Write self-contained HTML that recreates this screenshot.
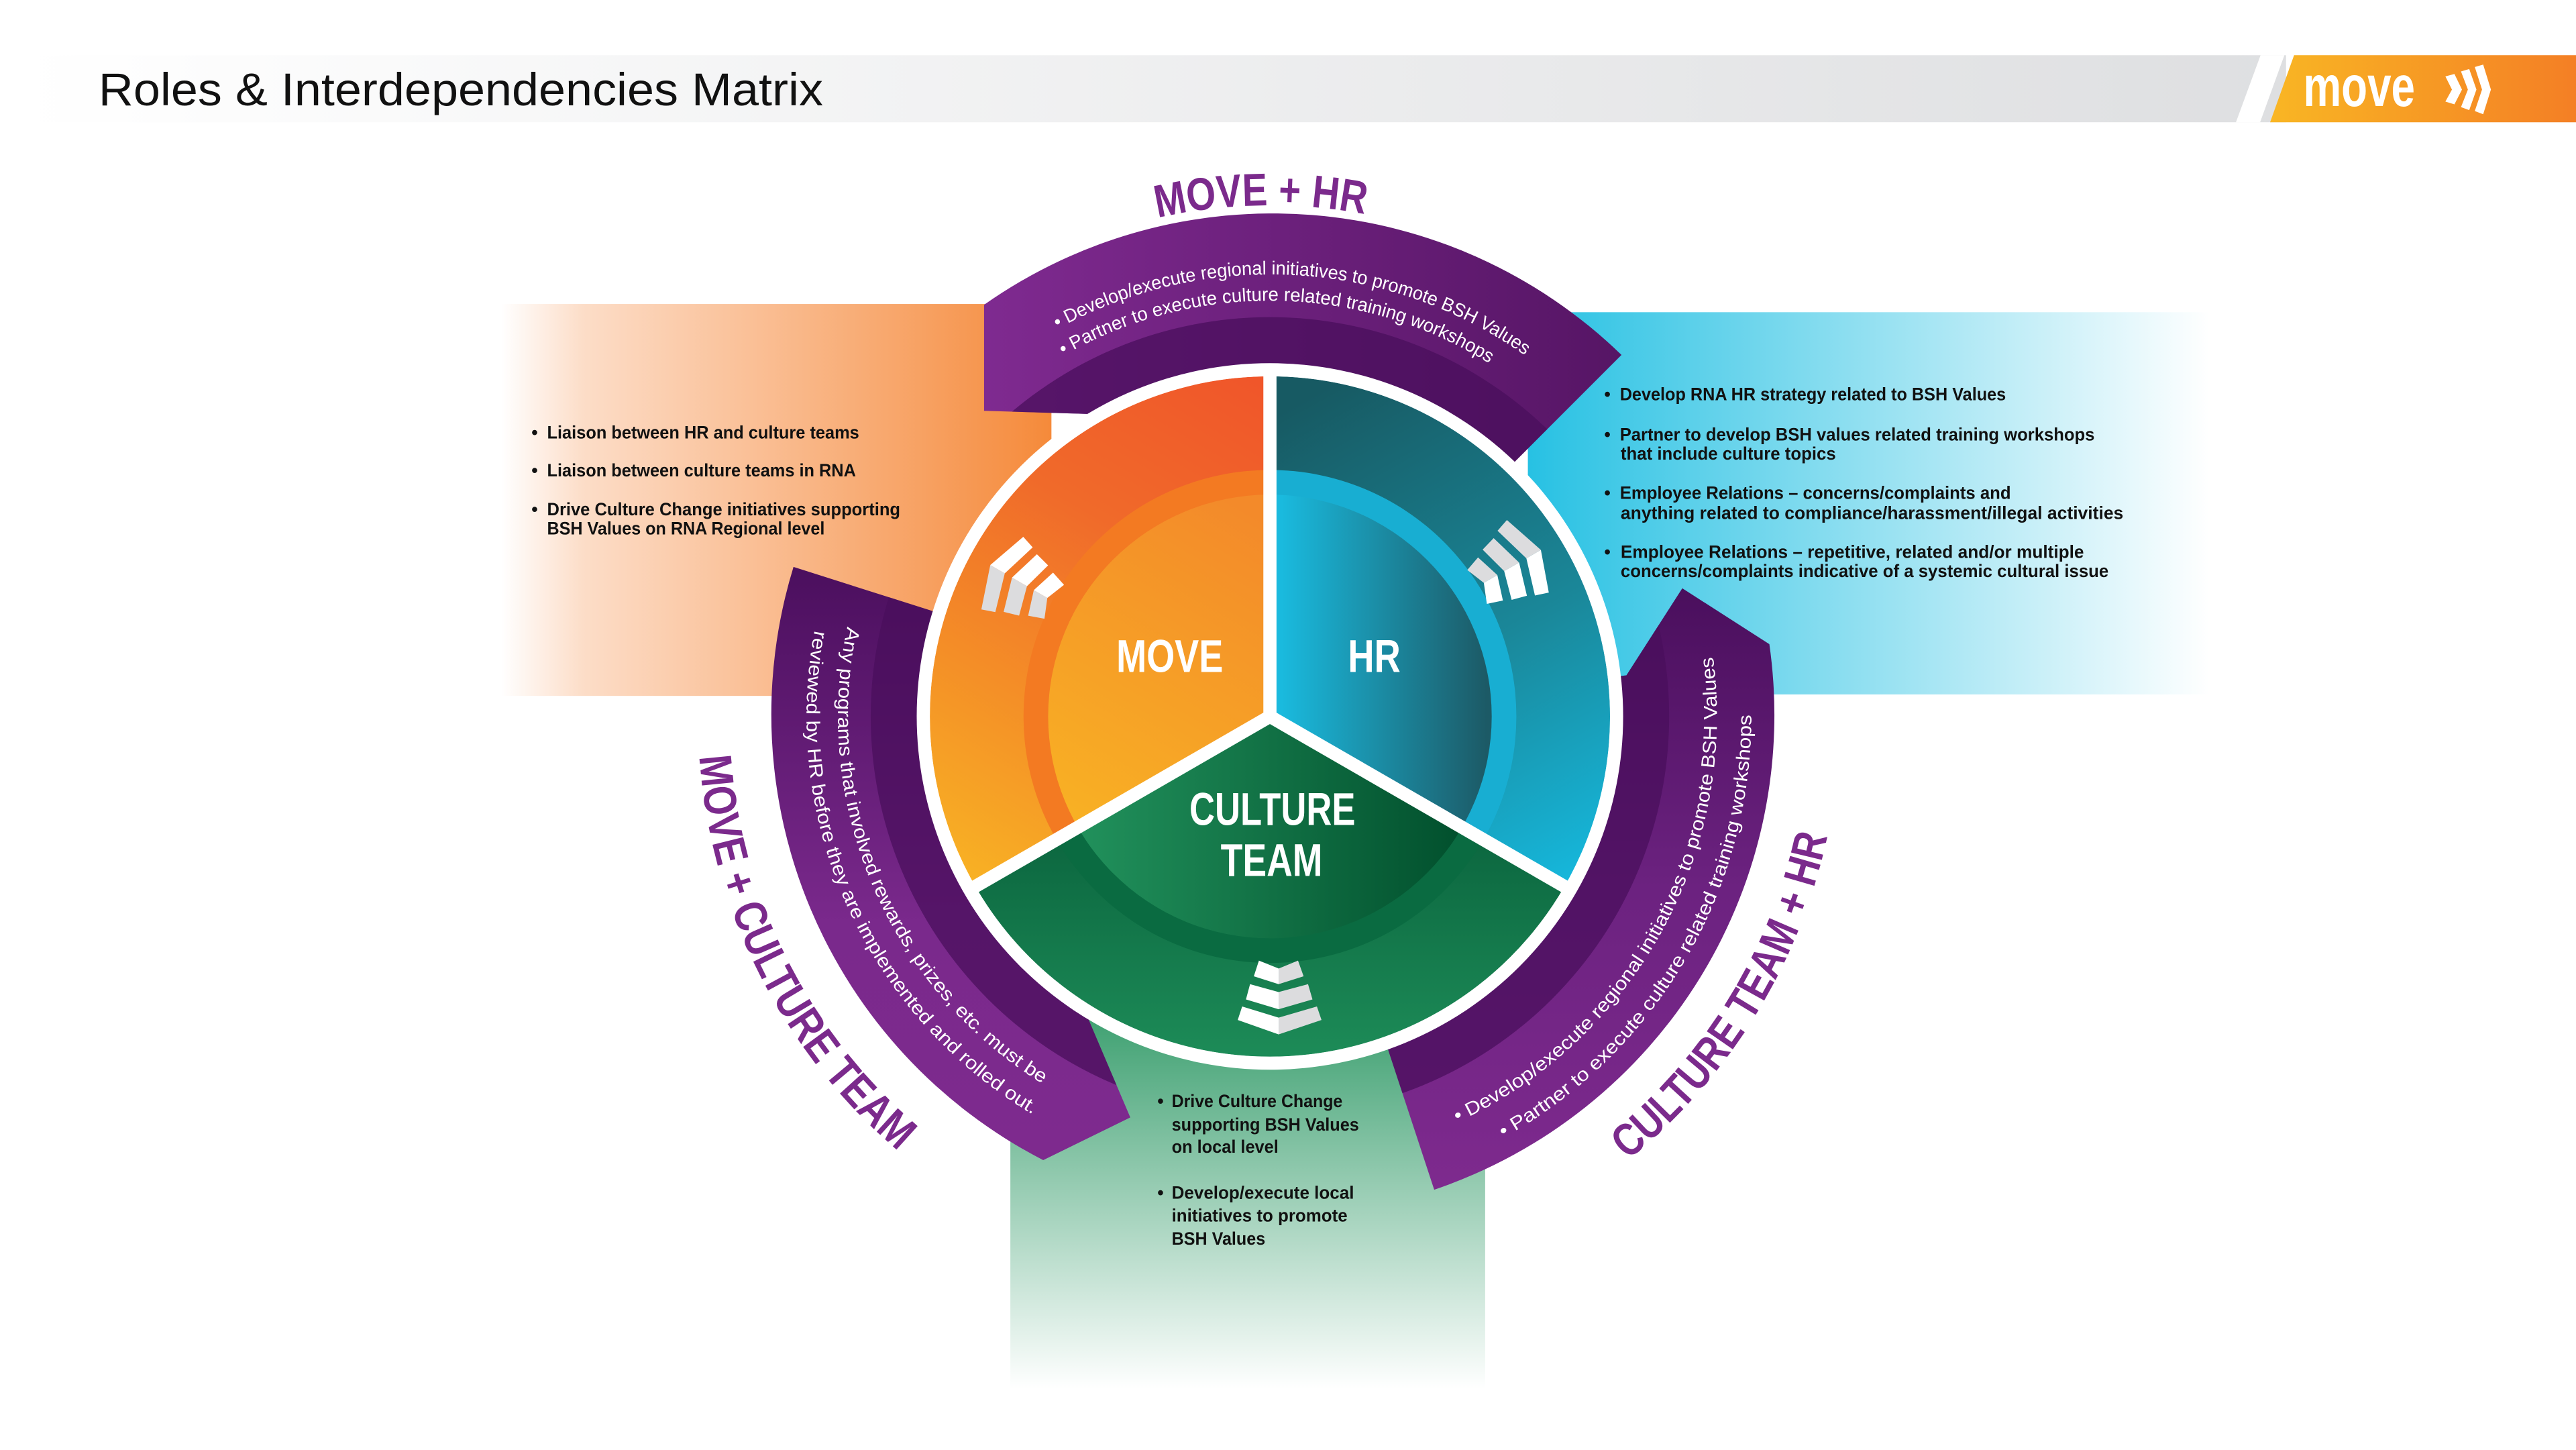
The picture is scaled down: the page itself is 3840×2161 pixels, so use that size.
<!DOCTYPE html>
<html><head><meta charset="utf-8"><style>
html,body{margin:0;padding:0;background:#fff;}
svg{display:block;}
text{font-family:"Liberation Sans",sans-serif;}
.b{font-weight:bold;font-size:11px;fill:#111;}
.w{fill:#fff;font-size:11.5px;}
.lbl{fill:#7b2a8c;font-weight:bold;font-size:28px;}
</style></head><body>
<svg width="3840" height="2161" viewBox="0 0 1568 882.4" preserveAspectRatio="none" xmlns="http://www.w3.org/2000/svg">
<defs>
<linearGradient id="gHead" x1="0" x2="1"><stop offset="0" stop-color="#ffffff"/><stop offset="1" stop-color="#dedfe1"/></linearGradient>
<linearGradient id="gLogo" x1="0" x2="1"><stop offset="0" stop-color="#f9b624"/><stop offset="1" stop-color="#f47f25"/></linearGradient>
<linearGradient id="gOr" x1="305" x2="640" gradientUnits="userSpaceOnUse"><stop offset="0" stop-color="#f68d45" stop-opacity="0"/><stop offset="0.15" stop-color="#f68d45" stop-opacity="0.3"/><stop offset="1" stop-color="#f58a3a"/></linearGradient>
<linearGradient id="gBl" x1="930" x2="1345" gradientUnits="userSpaceOnUse"><stop offset="0" stop-color="#27c1e3"/><stop offset="0.85" stop-color="#27c1e3" stop-opacity="0.15"/><stop offset="1" stop-color="#27c1e3" stop-opacity="0"/></linearGradient>
<linearGradient id="gGr" x1="0" y1="600" x2="0" y2="845" gradientUnits="userSpaceOnUse"><stop offset="0" stop-color="#2f9966"/><stop offset="1" stop-color="#2f9966" stop-opacity="0"/></linearGradient>
<linearGradient id="gPT" x1="599" x2="987" gradientUnits="userSpaceOnUse"><stop offset="0" stop-color="#7f2a90"/><stop offset="1" stop-color="#561565"/></linearGradient>
<linearGradient id="gPL" x1="0" y1="345" x2="0" y2="706" gradientUnits="userSpaceOnUse"><stop offset="0" stop-color="#4b0f5e"/><stop offset="0.6" stop-color="#7a298c"/><stop offset="1" stop-color="#7e2a8e"/></linearGradient>
<linearGradient id="gPR" x1="0" y1="724" x2="0" y2="358" gradientUnits="userSpaceOnUse"><stop offset="0" stop-color="#7e2a8e"/><stop offset="0.5" stop-color="#6c2280"/><stop offset="1" stop-color="#4a0f5d"/></linearGradient>
<linearGradient id="gMo" x1="773" y1="229" x2="593" y2="540" gradientUnits="userSpaceOnUse"><stop offset="0" stop-color="#f0552a"/><stop offset="0.35" stop-color="#f06a2a"/><stop offset="1" stop-color="#f8b224"/></linearGradient>
<linearGradient id="gMoI" x1="760" y1="310" x2="640" y2="520" gradientUnits="userSpaceOnUse"><stop offset="0" stop-color="#f38a2a"/><stop offset="1" stop-color="#f9b523"/></linearGradient>
<linearGradient id="gHr" x1="800" y1="240" x2="960" y2="530" gradientUnits="userSpaceOnUse"><stop offset="0" stop-color="#175a63"/><stop offset="0.55" stop-color="#1a8799"/><stop offset="1" stop-color="#16b6da"/></linearGradient>
<linearGradient id="gHrI" x1="780" x2="905" gradientUnits="userSpaceOnUse"><stop offset="0" stop-color="#1abade"/><stop offset="1" stop-color="#1c5a66"/></linearGradient>
<linearGradient id="gCu" x1="0" y1="440" x2="0" y2="645" gradientUnits="userSpaceOnUse"><stop offset="0" stop-color="#035433"/><stop offset="1" stop-color="#1d8c58"/></linearGradient>
<linearGradient id="gCuI" x1="650" x2="900" gradientUnits="userSpaceOnUse"><stop offset="0" stop-color="#22935d"/><stop offset="1" stop-color="#004d2b"/></linearGradient>
<clipPath id="cPurp">
<path d="M599,185.5 A305 305 0 0 1 987,216 L923,280 L773,436 L665,252 L599,250 Z"/>
<path d="M483,345 A305 305 0 0 0 635,706 L688,680 L662,619 L773,436 L568,372 Z"/>
<path d="M873,724 A305 305 0 0 0 1077,392 L1024,358 L990,411 L773,436 L845,639 Z"/>
</clipPath>
<clipPath id="cMo"><path d="M773,436 L773,229 A207 207 0 0 0 593.7,539.5 Z"/></clipPath>
<clipPath id="cHr"><path d="M773,436 L773,229 A207 207 0 0 1 952.3,539.5 Z"/></clipPath>
<clipPath id="cCu"><path d="M773,436 L952.3,539.5 A207 207 0 0 1 593.7,539.5 Z"/></clipPath>
<g id="icon">
<polygon points="766.3,584.6 778.3,589.4 778.3,598.9 763.2,594.1" fill="#fff"/>
<polygon points="778.3,589.4 790.1,584.6 793.5,594.1 778.3,598.9" fill="#dcdcde"/>
<polygon points="760.9,598.9 778.3,603.7 778.3,614.2 758.4,608.2" fill="#fff"/>
<polygon points="778.3,603.7 796.2,598.9 798.9,608.2 778.3,614.2" fill="#dcdcde"/>
<polygon points="756.1,612.5 778.3,619.3 778.3,629.5 753.4,620.7" fill="#fff"/>
<polygon points="778.3,619.3 801.6,612.5 804.4,620.7 778.3,629.5" fill="#dcdcde"/>
</g>
<path id="tp1" d="M643.8,200.1 A269 269 0 0 1 931.2,218.4"/>
<path id="tp2" d="M647.3,216.4 A253 253 0 0 1 908.2,222.2"/>
<path id="tpH" d="M612.8,169.5 A311 311 0 0 1 923.8,163.9"/>
<path id="lp1" d="M515.8,381.3 A263 263 0 0 0 636.8,660.9"/>
<path id="lp2" d="M495.8,383.6 A282 282 0 0 0 630.6,679.4"/>
<path id="lpL" d="M425.7,460.4 A348 348 0 0 0 548.5,701.9"/>
<path id="rp1" d="M887.0,683.0 A272 272 0 0 0 1042.3,396.8"/>
<path id="rp2" d="M915.1,692.4 A293 293 0 0 0 1066,431.9"/>
<path id="rpL" d="M990.9,706.0 A347 347 0 0 0 1112.7,506.8"/>
</defs>

<!-- header -->
<rect x="13.5" y="33.6" width="1378" height="40.8" fill="url(#gHead)"/>
<polygon points="1376,33.6 1390.5,33.6 1375.7,74.4 1361,74.4" fill="#fff"/>
<polygon points="1396.4,33.6 1568,33.6 1568,74.4 1381.8,74.4" fill="url(#gLogo)"/>
<text x="60" y="64.2" font-size="28" fill="#111" textLength="441" lengthAdjust="spacingAndGlyphs">Roles &amp; Interdependencies Matrix</text>
<text x="1402" y="64.5" font-size="35" font-weight="bold" fill="#fff" textLength="68" lengthAdjust="spacingAndGlyphs">move</text>
<g fill="#fff">
<polygon points="1488.5,46.5 1494,45 1498.6,54.5 1494,63.5 1488.5,61.8 1492.5,54.5"/>
<polygon points="1498,43.5 1503,42 1507.4,54.5 1503,67 1498,65.2 1502.2,54.5"/>
<polygon points="1506.4,40.8 1511.5,39.3 1516.2,54.5 1511.5,69.5 1506.4,67.6 1510.8,54.5"/>
</g>

<!-- background panels -->
<rect x="305" y="185" width="335" height="238.5" fill="url(#gOr)"/>
<rect x="930" y="190" width="415" height="232.6" fill="url(#gBl)"/>
<rect x="615" y="600" width="289" height="245" fill="url(#gGr)"/>

<!-- purple arcs -->
<path d="M599,185.5 A305 305 0 0 1 987,216 L923,280 L773,436 L665,252 L599,250 Z" fill="url(#gPT)"/>
<path d="M483,345 A305 305 0 0 0 635,706 L688,680 L662,619 L773,436 L568,372 Z" fill="url(#gPL)"/>
<path d="M873,724 A305 305 0 0 0 1077,392 L1024,358 L990,411 L773,436 L845,639 Z" fill="url(#gPR)"/>
<circle cx="773" cy="436" r="243" fill="#4a0f5c" opacity="0.75" clip-path="url(#cPurp)"/>

<!-- wheel -->
<circle cx="773" cy="436" r="215" fill="#fff"/>
<g clip-path="url(#cMo)">
<circle cx="773" cy="436" r="207" fill="url(#gMo)"/>
<circle cx="773" cy="436" r="150" fill="#f37a22"/>
<circle cx="773" cy="436" r="135" fill="url(#gMoI)"/>
</g>
<g clip-path="url(#cHr)">
<circle cx="773" cy="436" r="207" fill="url(#gHr)"/>
<circle cx="773" cy="436" r="150" fill="#18aed2"/>
<circle cx="773" cy="436" r="135" fill="url(#gHrI)"/>
</g>
<g clip-path="url(#cCu)">
<circle cx="773" cy="436" r="207" fill="url(#gCu)"/>
<circle cx="773" cy="436" r="150" fill="#0a6b41"/>
<circle cx="773" cy="436" r="135" fill="url(#gCuI)"/>
</g>
<g stroke="#fff" stroke-width="8" stroke-linecap="butt">
<line x1="773" y1="436" x2="773" y2="222"/>
<line x1="773" y1="436" x2="958.5" y2="543"/>
<line x1="773" y1="436" x2="587.5" y2="543"/>
</g>

<use href="#icon"/>
<use href="#icon" transform="rotate(120 773 436)"/>
<use href="#icon" transform="rotate(-120 773 436)"/>

<g fill="#fff" font-weight="bold" font-size="28" text-anchor="middle">
<text x="712" y="409" textLength="65" lengthAdjust="spacingAndGlyphs">MOVE</text>
<text x="836.5" y="409" textLength="32" lengthAdjust="spacingAndGlyphs">HR</text>
<text x="774.5" y="502" textLength="101" lengthAdjust="spacingAndGlyphs">CULTURE</text>
<text x="774" y="533" textLength="62" lengthAdjust="spacingAndGlyphs">TEAM</text>
</g>

<!-- arc texts -->
<text class="w"><textPath href="#tp1" textLength="300" lengthAdjust="spacingAndGlyphs">• Develop/execute regional initiatives to promote BSH Values</textPath></text>
<text class="w"><textPath href="#tp2" textLength="272" lengthAdjust="spacingAndGlyphs">• Partner to execute culture related training workshops</textPath></text>
<text class="lbl"><textPath href="#tpH" startOffset="50%" text-anchor="middle" textLength="127" lengthAdjust="spacingAndGlyphs">MOVE + HR</textPath></text>
<text class="w"><textPath href="#lp1" textLength="322" lengthAdjust="spacingAndGlyphs">Any programs that involved rewards, prizes, etc. must be</textPath></text>
<text class="w"><textPath href="#lp2" textLength="344" lengthAdjust="spacingAndGlyphs">reviewed by HR before they are implemented and rolled out.</textPath></text>
<text class="lbl"><textPath href="#lpL" textLength="276" lengthAdjust="spacingAndGlyphs">MOVE + CULTURE TEAM</textPath></text>
<text class="w"><textPath href="#rp1" textLength="346" lengthAdjust="spacingAndGlyphs">• Develop/execute regional initiatives to promote BSH Values</textPath></text>
<text class="w"><textPath href="#rp2" textLength="313" lengthAdjust="spacingAndGlyphs">• Partner to execute culture related training workshops</textPath></text>
<text class="lbl"><textPath href="#rpL" textLength="236" lengthAdjust="spacingAndGlyphs">CULTURE TEAM + HR</textPath></text>

<!-- orange block -->
<g class="b">
<text x="323.5" y="266.8">•</text><text x="333" y="266.8" textLength="190" lengthAdjust="spacingAndGlyphs">Liaison between HR and culture teams</text>
<text x="323.5" y="289.9">•</text><text x="333" y="289.9" textLength="188" lengthAdjust="spacingAndGlyphs">Liaison between culture teams in RNA</text>
<text x="323.5" y="313.7">•</text><text x="333" y="313.7" textLength="215" lengthAdjust="spacingAndGlyphs">Drive Culture Change initiatives supporting</text>
<text x="333" y="325.3" textLength="169" lengthAdjust="spacingAndGlyphs">BSH Values on RNA Regional level</text>
</g>
<!-- blue block -->
<g class="b">
<text x="976.5" y="243.6">•</text><text x="986" y="243.6" textLength="235" lengthAdjust="spacingAndGlyphs">Develop RNA HR strategy related to BSH Values</text>
<text x="976.5" y="268.1">•</text><text x="986" y="268.1" textLength="289" lengthAdjust="spacingAndGlyphs">Partner to develop BSH values related training workshops</text>
<text x="986.5" y="279.7" textLength="131" lengthAdjust="spacingAndGlyphs">that include culture topics</text>
<text x="976.5" y="303.5">•</text><text x="986" y="303.5" textLength="238" lengthAdjust="spacingAndGlyphs">Employee Relations – concerns/complaints and</text>
<text x="986.5" y="315.8" textLength="306" lengthAdjust="spacingAndGlyphs">anything related to compliance/harassment/illegal activities</text>
<text x="976.5" y="339.6">•</text><text x="986.5" y="339.6" textLength="282" lengthAdjust="spacingAndGlyphs">Employee Relations – repetitive, related and/or multiple</text>
<text x="986.5" y="351.2" textLength="297" lengthAdjust="spacingAndGlyphs">concerns/complaints indicative of a systemic cultural issue</text>
</g>
<!-- green block -->
<g class="b">
<text x="704.5" y="673.7">•</text><text x="713.2" y="673.7" textLength="104" lengthAdjust="spacingAndGlyphs">Drive Culture Change</text>
<text x="713.2" y="688" textLength="114" lengthAdjust="spacingAndGlyphs">supporting BSH Values</text>
<text x="713.2" y="701.5" textLength="65" lengthAdjust="spacingAndGlyphs">on local level</text>
<text x="704.5" y="729.5">•</text><text x="713.2" y="729.5" textLength="111" lengthAdjust="spacingAndGlyphs">Develop/execute local</text>
<text x="713.2" y="743.4" textLength="107" lengthAdjust="spacingAndGlyphs">initiatives to promote</text>
<text x="713.2" y="757.5" textLength="57" lengthAdjust="spacingAndGlyphs">BSH Values</text>
</g>
</svg>
</body></html>
